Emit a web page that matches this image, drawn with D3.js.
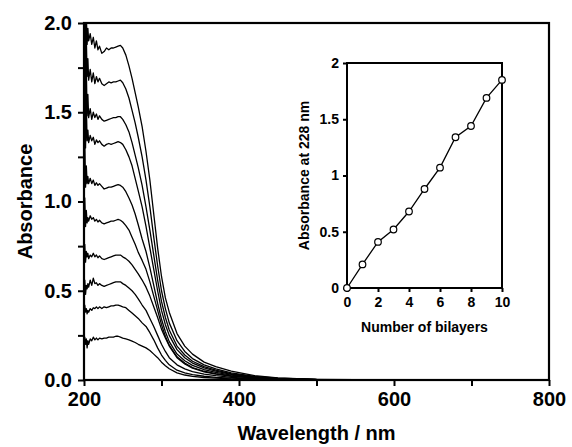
<!DOCTYPE html>
<html>
<head>
<meta charset="utf-8">
<script src="https://cdn.jsdelivr.net/npm/d3@7"></script>
<style>
  body { margin: 0; background: #fff; }
  text { font-family: "Liberation Sans", Arial, Helvetica, sans-serif; font-weight: bold; fill: #000; }
</style>
</head>
<body>
<script>
// wavelength grid (nm) shared by all spectra
const wavelengths = [200, 201, 202, 203, 204, 205, 206, 208, 210, 212, 214, 216, 218, 220, 223, 226, 229, 232, 235, 238, 241, 244, 247, 250,
  254, 258, 262, 266, 270, 275, 280, 285, 290, 295, 300, 305, 310, 320, 330, 340, 355, 370, 390, 420, 450, 500, 600, 800];

// absorbance spectra, 1 to 10 bilayers
const spectrum1 = [0.19, 0.24, 0.20, 0.23, 0.18, 0.22, 0.20, 0.23, 0.22, 0.24, 0.225, 0.235, 0.225, 0.235, 0.23, 0.235, 0.235, 0.24, 0.24, 0.24, 0.245, 0.245, 0.24, 0.235,
  0.23, 0.225, 0.218, 0.21, 0.20, 0.19, 0.18, 0.165, 0.145, 0.125, 0.10, 0.08, 0.063, 0.04, 0.028, 0.02, 0.014, 0.01, 0.006, 0.003, 0.001, 0, 0, 0];
const spectrum2 = [0.36, 0.42, 0.38, 0.40, 0.37, 0.39, 0.38, 0.40, 0.39, 0.405, 0.40, 0.41, 0.40, 0.41, 0.40, 0.41, 0.405, 0.41, 0.415, 0.415, 0.42, 0.42, 0.415, 0.41,
  0.405, 0.39, 0.375, 0.36, 0.345, 0.32, 0.30, 0.265, 0.225, 0.18, 0.14, 0.11, 0.085, 0.055, 0.04, 0.03, 0.021, 0.015, 0.01, 0.005, 0.002, 0.001, 0, 0];
const spectrum3 = [0.50, 0.56, 0.48, 0.53, 0.51, 0.54, 0.52, 0.56, 0.53, 0.57, 0.54, 0.545, 0.53, 0.54, 0.53, 0.525, 0.53, 0.535, 0.54, 0.545, 0.55, 0.55, 0.55, 0.54,
  0.53, 0.515, 0.50, 0.48, 0.455, 0.42, 0.39, 0.345, 0.30, 0.25, 0.20, 0.16, 0.125, 0.085, 0.062, 0.047, 0.033, 0.024, 0.015, 0.008, 0.004, 0.001, 0, 0];
const spectrum4 = [0.68, 0.76, 0.66, 0.72, 0.69, 0.71, 0.68, 0.70, 0.69, 0.71, 0.69, 0.70, 0.685, 0.695, 0.68, 0.675, 0.68, 0.685, 0.69, 0.695, 0.70, 0.70, 0.70, 0.69,
  0.68, 0.665, 0.645, 0.62, 0.595, 0.56, 0.52, 0.47, 0.41, 0.35, 0.285, 0.235, 0.19, 0.125, 0.09, 0.066, 0.046, 0.033, 0.021, 0.011, 0.005, 0.001, 0, 0];
const spectrum5 = [0.90, 1.02, 0.86, 0.95, 0.88, 0.91, 0.89, 0.92, 0.90, 0.91, 0.89, 0.90, 0.885, 0.895, 0.88, 0.875, 0.88, 0.885, 0.89, 0.89, 0.895, 0.90, 0.895, 0.885,
  0.865, 0.84, 0.80, 0.76, 0.715, 0.67, 0.62, 0.55, 0.47, 0.39, 0.31, 0.245, 0.195, 0.13, 0.095, 0.07, 0.049, 0.036, 0.023, 0.012, 0.006, 0.002, 0, 0];
const spectrum6 = [1.12, 1.35, 1.08, 1.20, 1.10, 1.14, 1.10, 1.13, 1.10, 1.12, 1.09, 1.105, 1.09, 1.10, 1.085, 1.07, 1.075, 1.08, 1.08, 1.085, 1.09, 1.095, 1.09, 1.08,
  1.055, 1.02, 0.98, 0.93, 0.87, 0.79, 0.72, 0.63, 0.53, 0.43, 0.34, 0.27, 0.215, 0.145, 0.108, 0.082, 0.058, 0.043, 0.027, 0.014, 0.007, 0.002, 0, 0];
const spectrum7 = [1.38, 1.80, 1.30, 1.55, 1.34, 1.40, 1.33, 1.37, 1.34, 1.36, 1.32, 1.345, 1.33, 1.34, 1.32, 1.31, 1.32, 1.325, 1.32, 1.325, 1.33, 1.335, 1.33, 1.32,
  1.29, 1.25, 1.20, 1.13, 1.06, 0.97, 0.86, 0.74, 0.62, 0.50, 0.39, 0.31, 0.25, 0.17, 0.125, 0.095, 0.068, 0.05, 0.032, 0.016, 0.008, 0.002, 0, 0];
const spectrum8 = [1.55, 1.95, 1.42, 1.75, 1.48, 1.60, 1.47, 1.52, 1.46, 1.50, 1.47, 1.49, 1.46, 1.48, 1.46, 1.45, 1.455, 1.46, 1.465, 1.47, 1.47, 1.475, 1.475, 1.46,
  1.43, 1.39, 1.33, 1.26, 1.19, 1.09, 0.97, 0.84, 0.70, 0.56, 0.44, 0.35, 0.28, 0.19, 0.14, 0.105, 0.075, 0.055, 0.035, 0.018, 0.009, 0.003, 0, 0];
const spectrum9 = [1.72, 2.05, 1.65, 1.92, 1.70, 1.80, 1.68, 1.74, 1.67, 1.72, 1.66, 1.70, 1.67, 1.69, 1.66, 1.65, 1.66, 1.67, 1.665, 1.67, 1.67, 1.675, 1.68, 1.665,
  1.63, 1.58, 1.51, 1.44, 1.36, 1.25, 1.12, 0.97, 0.80, 0.64, 0.50, 0.40, 0.32, 0.22, 0.16, 0.12, 0.085, 0.062, 0.04, 0.02, 0.01, 0.003, 0.001, 0];
const spectrum10 = [1.90, 2.10, 1.82, 2.05, 1.88, 1.97, 1.90, 1.94, 1.88, 1.92, 1.86, 1.90, 1.85, 1.87, 1.83, 1.84, 1.86, 1.85, 1.86, 1.86, 1.865, 1.87, 1.875, 1.86,
  1.82, 1.76, 1.69, 1.61, 1.53, 1.42, 1.28, 1.12, 0.93, 0.74, 0.58, 0.46, 0.38, 0.26, 0.19, 0.145, 0.10, 0.075, 0.05, 0.025, 0.012, 0.004, 0.001, 0];
const spectra = [spectrum1, spectrum2, spectrum3, spectrum4, spectrum5, spectrum6, spectrum7, spectrum8, spectrum9, spectrum10];

// inset: absorbance at 228 nm vs number of bilayers
const bilayers = [0, 1, 2, 3, 4, 5, 6, 7, 8, 9, 10];
const abs228 = [0, 0.21, 0.41, 0.52, 0.68, 0.88, 1.07, 1.34, 1.44, 1.69, 1.85];

// tick values
const mainXTicks = [200, 400, 600, 800];
const mainXMinor = [300, 500, 700];
const mainYTicks = [0, 0.5, 1.0, 1.5, 2.0];
const mainYMinor = [0.25, 0.75, 1.25, 1.75];
const insetXTicks = [0, 2, 4, 6, 8, 10];
const insetYTicks = [0, 0.5, 1, 1.5, 2];

const W = 572, H = 447;
const svg = d3.select("body").append("svg")
    .attr("width", W)
    .attr("height", H);

// main plot area
const m = {left: 84, top: 23, right: 549, bottom: 380};

const x = d3.scaleLinear().domain([200, 800]).range([m.left, m.right]);
const y = d3.scaleLinear().domain([0, 2]).range([m.bottom, m.top]);

svg.append("clipPath").attr("id", "clip")
  .append("rect")
    .attr("x", m.left).attr("y", m.top)
    .attr("width", m.right - m.left).attr("height", m.bottom - m.top);

const line = d3.line()
    .x((d, i) => x(wavelengths[i]))
    .y(d => y(d));

svg.append("g")
    .attr("clip-path", "url(#clip)")
  .selectAll("path")
  .data(spectra)
  .join("path")
    .attr("d", line)
    .attr("fill", "none")
    .attr("stroke", "#000")
    .attr("stroke-width", 1.3)
    .attr("stroke-linejoin", "round");

function styleAxis(g, fontSize) {
  g.select(".domain").remove();
  g.selectAll(".tick line").attr("stroke", "#000").attr("stroke-width", 2);
  g.selectAll(".tick text")
    .attr("fill", "#000")
    .style("font-size", fontSize + "px")
    .style("font-family", '"Liberation Sans", Arial, Helvetica, sans-serif')
    .style("font-weight", "bold");
}

// x axis main
svg.append("g")
    .attr("transform", `translate(0, ${m.bottom})`)
    .call(d3.axisBottom(x).tickValues(mainXTicks).tickSize(6).tickPadding(6).tickFormat(d3.format("d")))
    .call(g => styleAxis(g, 20));
svg.append("g")
    .attr("transform", `translate(0, ${m.bottom})`)
    .call(d3.axisBottom(x).tickValues(mainXMinor).tickSize(6).tickFormat(""))
    .call(g => styleAxis(g, 20));

// y axis main
svg.append("g")
    .attr("transform", `translate(${m.left}, 0)`)
    .call(d3.axisLeft(y).tickValues(mainYTicks).tickSize(6).tickPadding(6).tickFormat(d3.format(".1f")))
    .call(g => styleAxis(g, 20));
svg.append("g")
    .attr("transform", `translate(${m.left}, 0)`)
    .call(d3.axisLeft(y).tickValues(mainYMinor).tickSize(6).tickFormat(""))
    .call(g => styleAxis(g, 20));

// frame
svg.append("rect")
    .attr("x", m.left).attr("y", m.top)
    .attr("width", m.right - m.left).attr("height", m.bottom - m.top)
    .attr("fill", "none")
    .attr("stroke", "#000")
    .attr("stroke-width", 2.2);

svg.append("text")
    .attr("x", (m.left + m.right) / 2)
    .attr("y", 440)
    .attr("text-anchor", "middle")
    .style("font-size", "20px")
    .text("Wavelength / nm");

svg.append("text")
    .attr("transform", `translate(32, ${(m.top + m.bottom) / 2}) rotate(-90)`)
    .attr("text-anchor", "middle")
    .style("font-size", "20px")
    .text("Absorbance");

// inset
const im = {left: 347, top: 63, right: 502, bottom: 288};
const ix = d3.scaleLinear().domain([0, 10]).range([im.left, im.right]);
const iy = d3.scaleLinear().domain([0, 2]).range([im.bottom, im.top]);

svg.append("g")
    .attr("transform", `translate(0, ${im.bottom})`)
    .call(d3.axisBottom(ix).tickValues(insetXTicks).tickSize(4).tickPadding(5))
    .call(g => styleAxis(g, 14));
svg.append("g")
    .attr("transform", `translate(${im.left}, 0)`)
    .call(d3.axisLeft(iy).tickValues(insetYTicks).tickSize(4).tickPadding(4).tickFormat(d => d))
    .call(g => styleAxis(g, 14));

svg.append("rect")
    .attr("x", im.left).attr("y", im.top)
    .attr("width", im.right - im.left).attr("height", im.bottom - im.top)
    .attr("fill", "none")
    .attr("stroke", "#000")
    .attr("stroke-width", 2);

svg.append("path")
    .datum(abs228)
    .attr("d", d3.line().x((d, i) => ix(bilayers[i])).y(d => iy(d)))
    .attr("fill", "none")
    .attr("stroke", "#000")
    .attr("stroke-width", 1.3);

svg.selectAll("circle.pt")
  .data(abs228)
  .join("circle")
    .attr("class", "pt")
    .attr("cx", (d, i) => ix(bilayers[i]))
    .attr("cy", d => iy(d))
    .attr("r", 3.3)
    .attr("fill", "#fff")
    .attr("stroke", "#000")
    .attr("stroke-width", 1.2);

svg.append("text")
    .attr("x", (im.left + im.right) / 2)
    .attr("y", 332)
    .attr("text-anchor", "middle")
    .style("font-size", "14px")
    .text("Number of bilayers");

svg.append("text")
    .attr("transform", `translate(309, ${(im.top + im.bottom) / 2}) rotate(-90)`)
    .attr("text-anchor", "middle")
    .style("font-size", "14px")
    .text("Absorbance at 228 nm");
</script>
</body>
</html>
